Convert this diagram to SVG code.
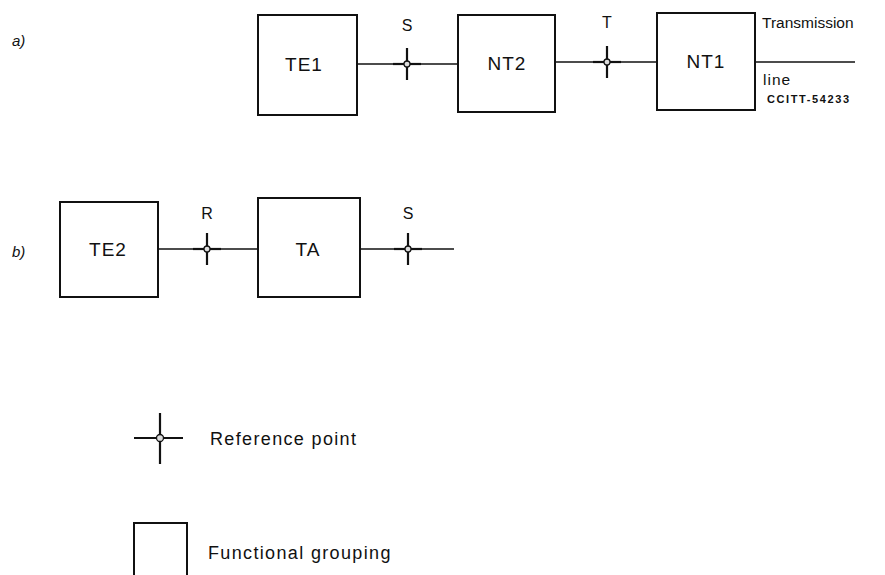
<svg xmlns="http://www.w3.org/2000/svg" width="885" height="575" viewBox="0 0 885 575">
<style>
.box{fill:none;stroke:#111;stroke-width:2}
.ln{stroke:#111;stroke-width:1.5;fill:none}
.cx{stroke:#111;stroke-width:2.2;fill:none}
.t{font-family:"Liberation Sans",Arial,sans-serif;fill:#111}
.lbl{font-size:19px;letter-spacing:1px;text-anchor:middle}
.ref{font-size:16px;text-anchor:middle}
.it{font-size:15px;font-style:italic}
.dot{fill:#ddd;stroke:#111;stroke-width:1.3}
.leg{font-size:18px;letter-spacing:1.35px}
</style>
<defs>
<g id="rp">
<line class="cx" x1="0" y1="-16" x2="0" y2="16"/>
<line class="cx" x1="-14" y1="0" x2="14" y2="0"/>
<circle class="dot" r="3"/>
</g>
</defs>
<text class="t it" x="12" y="46">a)</text>
<text class="t it" x="12" y="257">b)</text>
<g id="connectors">
<line class="ln" x1="357" y1="64" x2="458" y2="64"/>
<line class="ln" x1="555" y1="62" x2="657" y2="62"/>
<line class="ln" x1="755" y1="62" x2="855" y2="62"/>
<line class="ln" x1="158" y1="249" x2="258" y2="249"/>
<line class="ln" x1="360" y1="249" x2="454" y2="249"/>
</g>
<g id="TE1"><rect class="box" x="258" y="15" width="99" height="100"/><text class="t lbl" x="304" y="71">TE1</text></g>
<g id="NT2"><rect class="box" x="458" y="15" width="97" height="97"/><text class="t lbl" x="507" y="70">NT2</text></g>
<g id="NT1"><rect class="box" x="657" y="13" width="98" height="97"/><text class="t lbl" x="706" y="68">NT1</text></g>
<g id="TE2"><rect class="box" x="60" y="202" width="98" height="95"/><text class="t lbl" x="108" y="256">TE2</text></g>
<g id="TA"><rect class="box" x="258" y="198" width="102" height="99"/><text class="t lbl" x="308" y="256">TA</text></g>
<g id="refS1"><use href="#rp" x="407" y="64"/><text class="t ref" x="407" y="31">S</text></g>
<g id="refT"><use href="#rp" x="607" y="62"/><text class="t ref" x="607" y="28">T</text></g>
<g id="refR"><use href="#rp" x="207" y="249"/><text class="t ref" x="207" y="219">R</text></g>
<g id="refS2"><use href="#rp" x="408" y="249"/><text class="t ref" x="408" y="219">S</text></g>
<text class="t" x="762" y="28" font-size="15.5">Transmission</text>
<text class="t" x="763" y="85" font-size="15.5" letter-spacing="1">line</text>
<text class="t" x="767" y="103" font-size="11" font-weight="bold" letter-spacing="1.6">CCITT-54233</text>
<g id="legend-ref">
<line class="cx" x1="160" y1="413" x2="160" y2="464"/>
<line class="cx" x1="134" y1="438" x2="183" y2="438"/>
<circle class="dot" cx="160" cy="438" r="3.5"/>
<text class="t leg" x="210" y="445">Reference point</text></g>
<g id="legend-box"><rect class="box" x="134" y="523" width="53" height="60"/><text class="t leg" x="208" y="559">Functional grouping</text></g>
</svg>
